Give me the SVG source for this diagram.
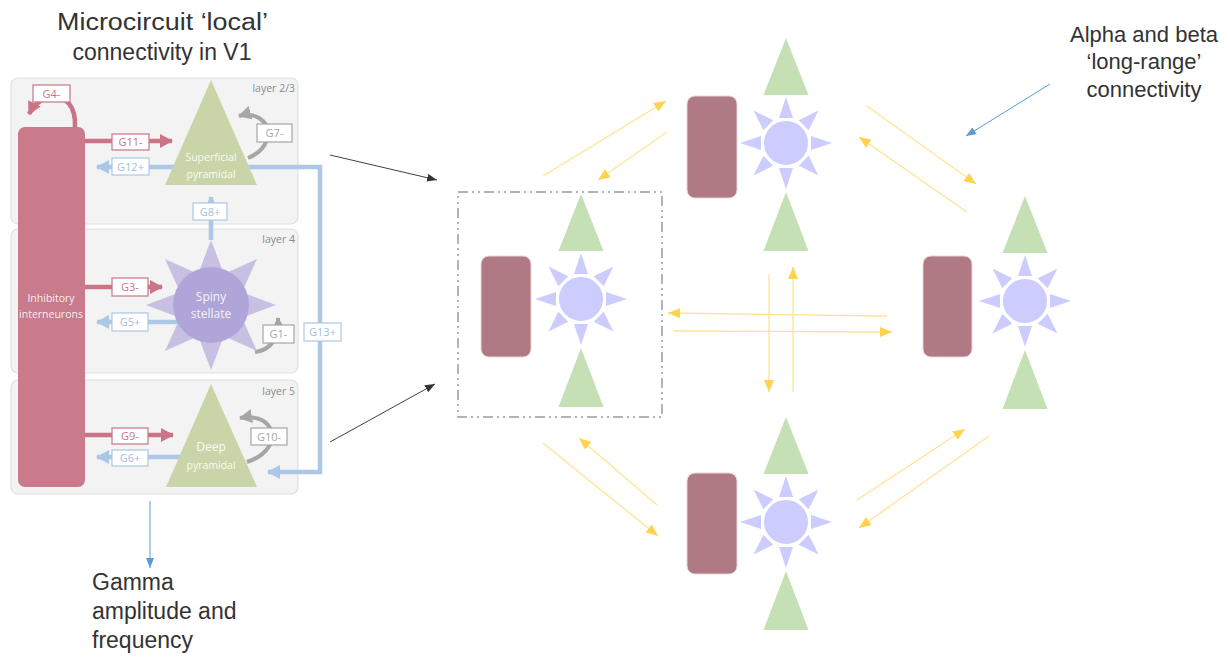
<svg xmlns="http://www.w3.org/2000/svg" xmlns:xlink="http://www.w3.org/1999/xlink" width="1229" height="658" viewBox="0 0 1229 658">
<style>
.title{font-family:"Liberation Sans",Arial,sans-serif;font-size:22px;fill:#333333}
.tl{font-size:23px}
.panel{fill:#f3f3f3;stroke:#e0e0e0;stroke-width:1.2}
.lay{font-family:"Open Sans","Liberation Sans",sans-serif;font-size:10.5px;fill:#8a8a8a;text-anchor:end}
.wt{font-family:"Open Sans","Liberation Sans",sans-serif;font-size:10.5px;fill:#ffffff;text-anchor:middle;fill-opacity:0.9}
.red{stroke:#c97587;stroke-width:4.5;fill:none}
.blu{stroke:#adc7e6;stroke-width:4.5;fill:none}
.gry{stroke:#a6a6a6;stroke-width:4;fill:none}
.lbox{fill:#ffffff;stroke-width:1.2}
.lr{stroke:#c97587}.lb{stroke:#adc7e6}.lg{stroke:#a6a6a6}
.lt{font-family:"Open Sans","Liberation Sans",sans-serif;font-size:11px;text-anchor:middle}
.tr{fill:#c97587}.tb{fill:#9fbde2}.tg{fill:#a6a6a6}
.pyr{fill:#c9d5a9}
.tri{fill:#c5e0b4}
.inh{fill:#b07a85;stroke:#ead3d8;stroke-width:1}
.sun{fill:#ccccff}
.core{fill:#ccccff;stroke:#ffffff;stroke-width:2}
.yl{stroke:#ffe394;stroke-width:1.3;fill:none;marker-end:url(#ya)}
.bk{stroke:#404040;stroke-width:1;fill:none;marker-end:url(#ka)}
.bl{stroke:#5b9bd5;stroke-width:1;fill:none;marker-end:url(#ba)}
</style>
<defs>
<marker id="ya" markerUnits="userSpaceOnUse" markerWidth="12" markerHeight="10" refX="12" refY="5" orient="auto"><path d="M0,0 L12,5 L0,10 z" fill="#ffd34f"/></marker>
<marker id="ka" markerUnits="userSpaceOnUse" markerWidth="10" markerHeight="8" refX="10" refY="4" orient="auto"><path d="M0,0 L10,4 L0,8 z" fill="#333333"/></marker>
<marker id="ba" markerUnits="userSpaceOnUse" markerWidth="10" markerHeight="8" refX="10" refY="4" orient="auto"><path d="M0,0 L10,4 L0,8 z" fill="#5b9bd5"/></marker>
<marker id="ra" markerUnits="userSpaceOnUse" markerWidth="13" markerHeight="14" refX="12" refY="7" orient="auto"><path d="M0,0 L13,7 L0,14 z" fill="#c97587"/></marker>
<marker id="bla" markerUnits="userSpaceOnUse" markerWidth="13" markerHeight="14" refX="12" refY="7" orient="auto"><path d="M0,0 L13,7 L0,14 z" fill="#adc7e6"/></marker>
<marker id="ga" markerUnits="userSpaceOnUse" markerWidth="13" markerHeight="14" refX="12" refY="7" orient="auto"><path d="M0,0 L13,7 L0,14 z" fill="#a6a6a6"/></marker>
<polygon id="ray" points="0,-46 -7,-25 7,-25"/>
<polygon id="sray" points="0,-65 -14,-28 14,-28"/>
<g id="netnode">
<polygon class="tri" points="0,-105 -22.5,-48 22.5,-48"/>
<g class="sun">
<use xlink:href="#ray"/><use xlink:href="#ray" transform="rotate(45)"/><use xlink:href="#ray" transform="rotate(90)"/><use xlink:href="#ray" transform="rotate(135)"/><use xlink:href="#ray" transform="rotate(180)"/><use xlink:href="#ray" transform="rotate(225)"/><use xlink:href="#ray" transform="rotate(270)"/><use xlink:href="#ray" transform="rotate(315)"/>
</g>
<circle class="core" r="23"/>
<polygon class="tri" points="0,49 -22.5,108 22.5,108"/>
</g>
</defs>
<rect width="1229" height="658" fill="#ffffff"/>

<g id="texts">
<text class="title tl" x="57" y="30" textLength="211" lengthAdjust="spacingAndGlyphs">Microcircuit ‘local’</text>
<text class="title tl" x="162" y="60" text-anchor="middle">connectivity in V1</text>
<text class="title" x="1144" y="42" text-anchor="middle">Alpha and beta</text>
<text class="title" x="1144" y="69" text-anchor="middle">‘long-range’</text>
<text class="title" x="1144" y="97" text-anchor="middle">connectivity</text>
<text class="title tl" x="92" y="590">Gamma</text>
<text class="title tl" x="92" y="619">amplitude and</text>
<text class="title tl" x="92" y="648">frequency</text>
</g>

<g id="microcircuit">
<rect class="panel" x="11" y="78" width="287" height="146" rx="7"/>
<rect class="panel" x="11" y="229" width="287" height="144" rx="7"/>
<rect class="panel" x="11" y="380" width="287" height="114" rx="7"/>
<text class="lay" x="295" y="92">layer 2/3</text>
<text class="lay" x="295" y="243">layer 4</text>
<text class="lay" x="295" y="395">layer 5</text>

<g id="inhibitory">
<rect x="18" y="127" width="67" height="360" rx="7" fill="#c97a8b"/>
<text class="wt" x="51" y="302">Inhibitory</text>
<text class="wt" x="51" y="318">interneurons</text>
</g>

<g id="mc-connectors">
<path class="red" d="M75,127 C76,106 66,96 52,97 C41,98 33,106 29,114" marker-end="url(#ra)"/>
<path class="red" d="M85,141 L172,141" marker-end="url(#ra)"/>
<path class="red" d="M85,287 L162,287" marker-end="url(#ra)"/>
<path class="red" d="M85,435 L173,435" marker-end="url(#ra)"/>
<path class="blu" d="M180,167 L97,167" marker-end="url(#bla)"/>
<path class="blu" d="M180,322 L97,322" marker-end="url(#bla)"/>
<path class="blu" d="M180,457 L97,457" marker-end="url(#bla)"/>
<path class="blu" d="M240,167 L320,167 L320,472 L268,472" marker-end="url(#bla)"/>
<path class="blu" d="M211,240 L211,197" marker-end="url(#bla)"/>
<path class="gry" d="M248,158 C268,150 273,131 263,121 C256,114 246,114 239,116" marker-end="url(#ga)"/>
<path class="gry" d="M255,352 C270,350 279,340 278,318" marker-end="url(#ga)"/>
<path class="gry" d="M247,462 C268,455 276,440 270,428 C265,418 252,416 240,418" marker-end="url(#ga)"/>
</g>

<g id="superficial">
<polygon class="pyr" points="211,80 165,185 257,185"/>
<text class="wt" x="211" y="161">Superficial</text>
<text class="wt" x="211" y="178">pyramidal</text>
</g>
<g id="stellate" transform="translate(211,305)">
<g fill="#c8c0e2">
<use xlink:href="#sray"/><use xlink:href="#sray" transform="rotate(45)"/><use xlink:href="#sray" transform="rotate(90)"/><use xlink:href="#sray" transform="rotate(135)"/><use xlink:href="#sray" transform="rotate(180)"/><use xlink:href="#sray" transform="rotate(225)"/><use xlink:href="#sray" transform="rotate(270)"/><use xlink:href="#sray" transform="rotate(315)"/>
</g>
<circle r="38" fill="#afa5d8"/>
<text class="wt" x="0" y="-4" style="font-size:12px">Spiny</text>
<text class="wt" x="0" y="13" style="font-size:12px">stellate</text>
</g>
<g id="deep">
<polygon class="pyr" points="211,384 166,487 257,487"/>
<text class="wt" x="211" y="451" style="font-size:12px">Deep</text>
<text class="wt" x="211" y="469">pyramidal</text>
</g>

<g id="mc-labels">
<rect class="lbox lr" x="33" y="85" width="37" height="17"/><text class="lt tr" x="51.5" y="98">G4-</text>
<rect class="lbox lr" x="112" y="134" width="37" height="16"/><text class="lt tr" x="130.5" y="146">G11-</text>
<rect class="lbox lb" x="112" y="158" width="37" height="17"/><text class="lt tb" x="130.5" y="171">G12+</text>
<rect class="lbox lg" x="257" y="124" width="35" height="18"/><text class="lt tg" x="274.5" y="137">G7-</text>
<rect class="lbox lb" x="193" y="203" width="34" height="17"/><text class="lt tb" x="210" y="216">G8+</text>
<rect class="lbox lr" x="112" y="278" width="36" height="18"/><text class="lt tr" x="130" y="291">G3-</text>
<rect class="lbox lb" x="112" y="313" width="36" height="18"/><text class="lt tb" x="130" y="326">G5+</text>
<rect class="lbox lg" x="263" y="325" width="31" height="18"/><text class="lt tg" x="278.5" y="338">G1-</text>
<rect class="lbox lb" x="304" y="323" width="37" height="18"/><text class="lt tb" x="322.5" y="336">G13+</text>
<rect class="lbox lr" x="112" y="428" width="36" height="16"/><text class="lt tr" x="130" y="440">G9-</text>
<rect class="lbox lb" x="112" y="450" width="36" height="16"/><text class="lt tb" x="130" y="462">G6+</text>
<rect class="lbox lg" x="251" y="428" width="36" height="17"/><text class="lt tg" x="269" y="441">G10-</text>
</g>
</g>

<g id="node-center">
<rect x="458" y="192" width="204" height="225" fill="none" stroke="#9a9a9a" stroke-width="1.5" stroke-dasharray="10 4 2 4 2 4"/>
<rect class="inh" x="481" y="256" width="50" height="101" rx="8"/>
<use xlink:href="#netnode" transform="translate(581,299)"/>
</g>
<g id="node-top">
<rect class="inh" x="687" y="96" width="50" height="102" rx="8"/>
<use xlink:href="#netnode" transform="translate(786,143)"/>
</g>
<g id="node-bottom">
<rect class="inh" x="687" y="473" width="50" height="101" rx="8"/>
<use xlink:href="#netnode" transform="translate(786,522)"/>
</g>
<g id="node-right">
<rect class="inh" x="923" y="256" width="49" height="101" rx="8"/>
<use xlink:href="#netnode" transform="translate(1025,301)"/>
</g>

<g id="connectors">
<line class="yl" x1="543" y1="176" x2="666" y2="101"/>
<line class="yl" x1="667" y1="132" x2="598" y2="180"/>
<line class="yl" x1="887" y1="316" x2="668" y2="313"/>
<line class="yl" x1="673" y1="331" x2="892" y2="332"/>
<line class="yl" x1="769" y1="274" x2="769" y2="392"/>
<line class="yl" x1="793" y1="392" x2="793" y2="267"/>
<line class="yl" x1="867" y1="106" x2="976" y2="184"/>
<line class="yl" x1="967" y1="212" x2="859" y2="137"/>
<line class="yl" x1="543" y1="443" x2="658" y2="536"/>
<line class="yl" x1="657" y1="505" x2="579" y2="438"/>
<line class="yl" x1="857" y1="500" x2="965" y2="429"/>
<line class="yl" x1="989" y1="436" x2="859" y2="528"/>
<line class="bk" x1="330" y1="155" x2="437" y2="180"/>
<line class="bk" x1="330" y1="442" x2="435" y2="384"/>
<line class="bl" x1="1050" y1="84" x2="966" y2="136"/>
<line class="bl" x1="150" y1="501" x2="150" y2="568"/>
</g>
</svg>
